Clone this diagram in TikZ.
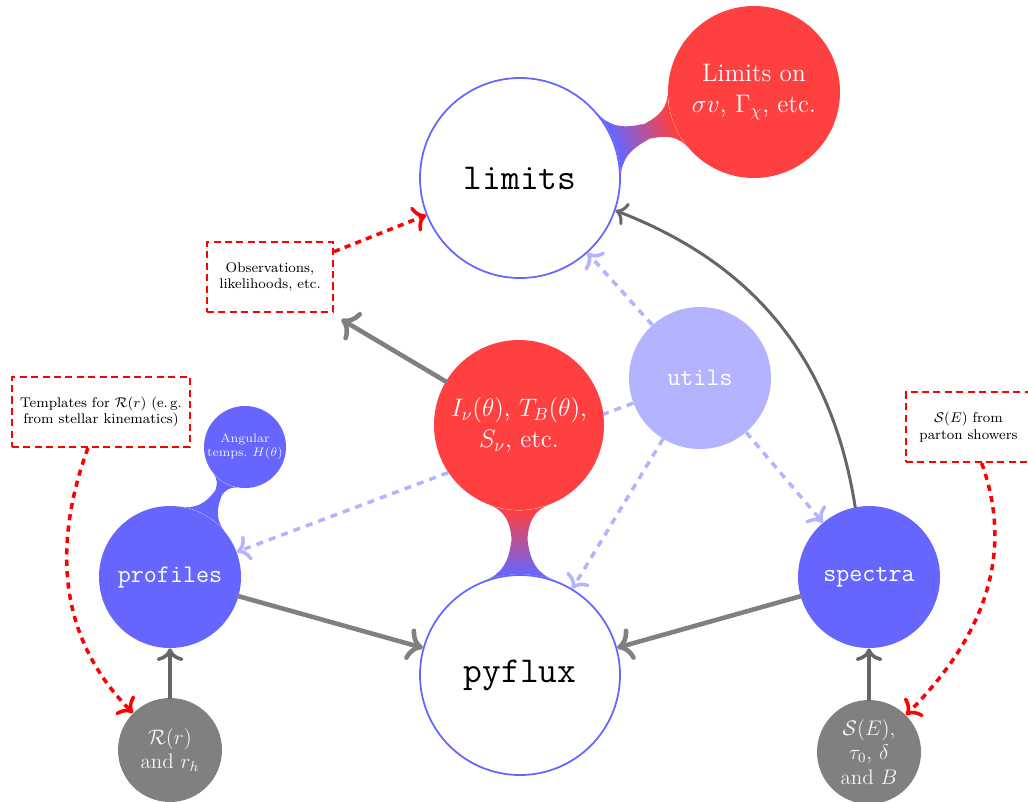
\documentclass[tikz,border=0pt]{standalone}
\usepackage{amsfonts,amsmath,amssymb}
\usepackage{xcolor}
\usepackage{tikz}
\usetikzlibrary{positioning,arrows.meta,mindmap,backgrounds}
\definecolor{blob}{HTML}{6666FF}
\definecolor{util}{HTML}{B3B3FF}
\definecolor{hot}{HTML}{FF4040}
\definecolor{grey}{HTML}{808080}
\definecolor{darkgrey}{HTML}{666666}

\begin{document}
\begin{tikzpicture}[
  bigc/.style={circle, draw=blob, line width=1pt, fill=white, minimum size=4cm, font=\huge\ttfamily},
  redc/.style={circle, fill=hot, text=white, align=center, font=\Large},
  bluec/.style={circle, fill=blob, text=white, minimum size=2.84cm, font=\Large\ttfamily},
  greyc/.style={circle, fill=grey, text=white!92!grey, align=center, minimum size=2.08cm, font=\large},
  note/.style={draw=red, line width=1.2pt, dash pattern=on 4pt off 2.5pt, fill=white, align=center, minimum height=1.4cm, font=\footnotesize},
  feed/.style={-{To[round,scale=1.2]}, line width=2.6pt, grey, line cap=round},
  feeddark/.style={-{To[round,scale=1.2]}, line width=2pt, darkgrey, line cap=round},
  uses/.style={-{To[round,scale=1.2]}, line width=2pt, util, dash pattern=on 4pt off 3.5pt},
  cite/.style={-{To[round,scale=1.2]}, line width=2pt, red, dash pattern=on 3.5pt off 3pt}
]
\useasboundingbox (0,0) rectangle (20.56,-16.02);

% main modules
\node[bigc] (limits) at (10.4,-3.56) {limits};
\node[bigc] (pyflux) at (10.4,-13.5) {pyflux};
\node[redc, minimum size=3.44cm] (limres) at (15.08,-1.84) {Limits on\\ $\sigma v$, $\Gamma_\chi$, etc.};
\node[redc, minimum size=3.4cm] (intens) at (10.38,-8.5) {$I_\nu(\theta)$, $T_B(\theta)$,\\ $S_\nu$, etc.};
\node[bluec, fill=util] (utils) at (14.0,-7.56) {utils};
\node[bluec] (profiles) at (3.4,-11.54) {profiles};
\node[bluec] (spectra) at (17.38,-11.54) {spectra};
\node[circle, fill=blob, text=white!90!blob, align=center, minimum size=1.64cm, inner sep=0pt, font=\scriptsize] (angular) at (4.9,-8.94) {Angular\\ temps.~$H(\theta)$};
\node[greyc] (radial) at (3.4,-15.0) {$\mathcal{R}(r)$\\ and $r_h$};
\node[greyc] (specpar) at (17.38,-15.04) {$\mathcal{S}(E)$,\\ $\tau_0$, $\delta$\\ and $B$};

% notes
\node[note, minimum width=2.52cm] (obsbox) at (5.4,-5.54) {Observations,\\ likelihoods, etc.};
\node[note, minimum width=3.56cm] (tempbox) at (2.02,-8.24) {Templates for $\mathcal{R}(r)$ (e.\,g.\\ from stellar kinematics)};
\node[note, minimum width=2.5cm] (partbox) at (19.37,-8.54) {$\mathcal{S}(E)$ from\\ parton showers};

% connection bars
\begin{scope}[on background layer]
\path (limits) to[circle connection bar switch color=from (blob) to (hot), decoration={start radius=2cm, end radius=1.72cm, amplitude=2mm}] (limres);
\path (intens) to[circle connection bar switch color=from (hot) to (blob), decoration={start radius=1.7cm, end radius=2cm, amplitude=1.8mm}] (pyflux);
\path (angular) to[circle connection bar switch color=from (blob) to (blob), decoration={start radius=0.82cm, end radius=1.42cm, amplitude=1mm}] (profiles);
\draw[uses] (utils) -- (limits);
\draw[uses] (utils) -- (profiles);
\draw[uses] (utils) -- (pyflux);
\draw[uses] (utils) -- (spectra);
\end{scope}

% data flow
\draw[feed, shorten >=2.5mm] (intens) -- (obsbox);
\draw[feed] (profiles) -- (pyflux);
\draw[feed] (spectra) -- (pyflux);
\draw[feeddark, line width=1.7pt] (spectra) to[bend right=30] (limits);
\draw[feeddark] (radial) -- (profiles);
\draw[feeddark] (specpar) -- (spectra);
\draw[cite] (obsbox) -- (limits);
\draw[cite] (tempbox) to[out=-110, in=135] (radial);
\draw[cite] (partbox) to[out=-70, in=45] (specpar);
\end{tikzpicture}
\end{document}
